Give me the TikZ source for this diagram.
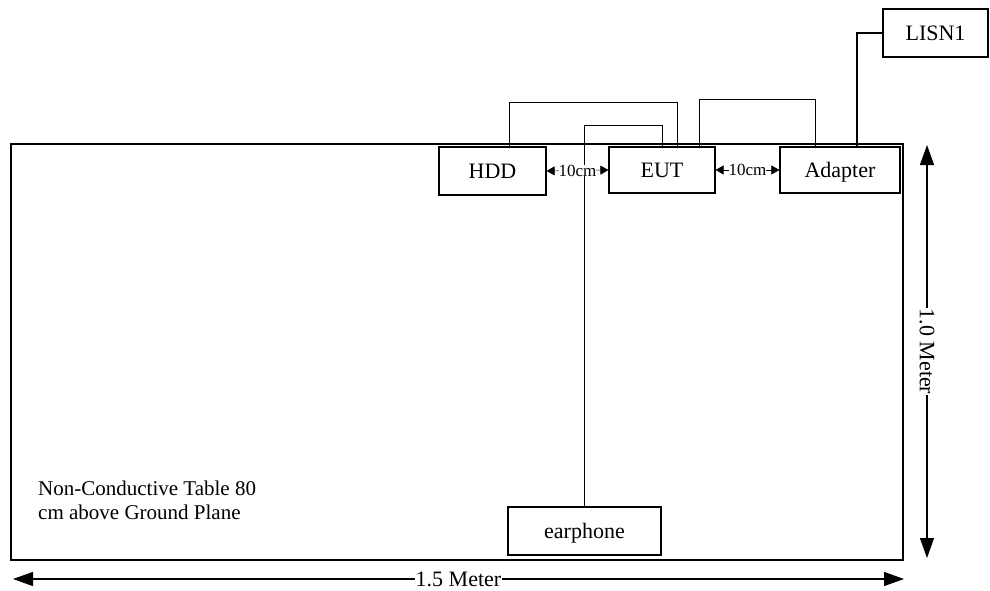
\documentclass[tikz,border=0pt]{standalone}
\usepackage{fontspec}
\setmainfont{Liberation Serif}
\usetikzlibrary{arrows.meta}

\begin{document}
\begin{tikzpicture}[x=1pt,y=-1pt,
  every node/.style={font=\fontsize{22}{24}\selectfont},
  dim/.style={line width=1.2pt,{Triangle[length=20pt,width=14pt]}-{Triangle[length=20pt,width=14pt]}},
  gap/.style={line width=0.6pt,{Triangle[length=8pt,width=9pt]}-{Triangle[length=8pt,width=9pt]}},
  cable/.style={line width=0.8pt},
  power/.style={line width=2.8pt}]
\useasboundingbox (0,0) rectangle (990,591);
\node[draw,line width=2.8pt,minimum width=892pt,minimum height=416pt,inner sep=0pt] (T) at (457,352) {};
\begin{scope}[every node/.style={draw,line width=1.2pt,fill=white,inner sep=0pt,minimum height=47pt,text height=14.5pt,text depth=0pt,font=\fontsize{22}{24}\selectfont}]
\node[minimum width=107pt,minimum height=48pt] (HDD) at (492.5,171) {HDD};
\node[minimum width=106pt,minimum height=46pt] (EUT) at (662,170) {EUT};
\node[minimum width=120pt,minimum height=46pt] (ADP) at (840,170) {Adapter};
\node[minimum width=153pt,minimum height=48pt] (EAR) at (584.5,531) {earphone};
\node[minimum width=105pt,minimum height=48pt] (LISN) at (935.5,33) {LISN1};
\end{scope}
\draw [cable] ([xshift=16.5pt]HDD.north) |- ([xshift=15pt,yshift=44pt]EUT.north) -- ([xshift=15pt]EUT.north);
\draw [cable] (EAR.north) |- ([yshift=21pt]EUT.north) -- (EUT.north);
\draw [cable] ([xshift=37pt]EUT.north) |- ([xshift=-25pt,yshift=47pt]ADP.north) -- ([xshift=-25pt]ADP.north);
\draw [power] ([xshift=17pt]ADP.north) |- (LISN.west);
\draw [gap] (HDD.east) -- node[fill=white,inner sep=0pt,font=\fontsize{17}{17}\selectfont]{10cm} (EUT.west);
\draw [gap] (EUT.east) -- node[fill=white,inner sep=0pt,font=\fontsize{17}{17}\selectfont]{10cm} (ADP.west);
\coordinate (W1) at (13,579);
\coordinate (W2) at (904,579);
\coordinate (H1) at (927,145);
\coordinate (H2) at (927,558);
\draw [dim] (W1) -- node[fill=white,inner sep=1pt]{1.5 Meter} (W2);
\draw [dim] (H1) -- node[fill=white,inner sep=1pt,rotate=-90]{1.0 Meter} (H2);
\node[anchor=west,align=left,inner sep=0pt,font=\fontsize{21}{24}\selectfont] (LBL) at (38,500) {Non-Conductive Table 80\\cm above Ground Plane};
\end{tikzpicture}
\end{document}
